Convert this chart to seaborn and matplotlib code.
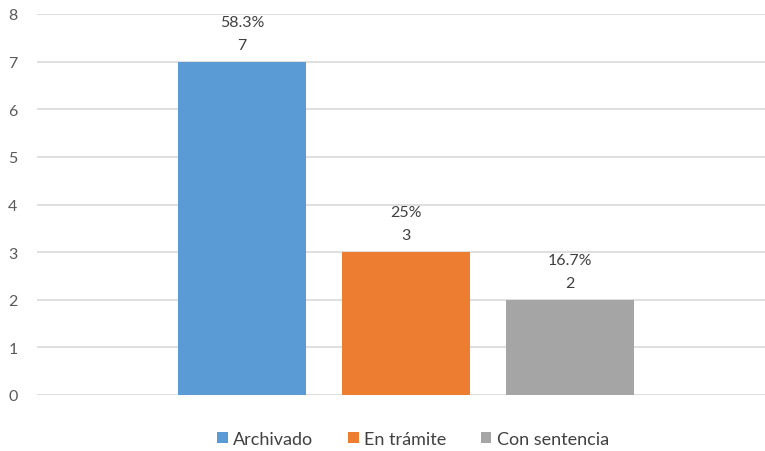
import matplotlib
matplotlib.use("Agg")
import matplotlib.pyplot as plt
import seaborn as sns
import pandas as pd

categories = ["Archivado", "En trámite", "Con sentencia"]
values = [7, 3, 2]
percent_labels = ["58.3%", "25%", "16.7%"]
colors = ["#5B9BD5", "#ED7D31", "#A5A5A5"]

sns.set_theme(style="white")
plt.rcParams["font.family"] = ["Lato", "DejaVu Sans"]

df = pd.DataFrame({"cat": categories, "val": values})

fig = plt.figure(figsize=(7.65, 4.52), dpi=100)
ax = fig.add_axes([37 / 765, 1 - 396 / 452, 1 - 37 / 765, (396 - 15) / 452])

sns.barplot(data=df, x="cat", y="val", hue="cat", palette=colors,
            width=0.78, dodge=False, legend=False, ax=ax, saturation=1,
            edgecolor="none", linewidth=0)

ax.set_ylim(0, 8)
ax.set_xlim(-1.25, 3.19)
ax.set_yticks(range(0, 9))
ax.yaxis.grid(True, color="#D9D9D9", linewidth=1.2)
ax.set_axisbelow(True)
ax.set_xticks([])
ax.set_xlabel("")
ax.set_ylabel("")
for s in ax.spines.values():
    s.set_visible(False)
ax.tick_params(axis="y", colors="#595959", labelsize=11.5, length=0, pad=14)

for i, (v, p) in enumerate(zip(values, percent_labels)):
    ax.annotate(f"{p}\n{v}", (i, v), xytext=(0, 7), textcoords="offset points",
                ha="center", va="bottom", fontsize=11.5, color="#404040",
                linespacing=1.85)

from matplotlib.patches import Patch
handles = [Patch(facecolor=c, edgecolor="none") for c in colors]
fig.legend(handles, categories, loc="center", bbox_to_anchor=(0.54, 1 - 440 / 452),
           ncol=3, frameon=False, fontsize=13, handlelength=0.6, handleheight=0.6,
           handletextpad=0.3, columnspacing=1.9, labelcolor="#404040")

fig.savefig("out.png", dpi=100)
